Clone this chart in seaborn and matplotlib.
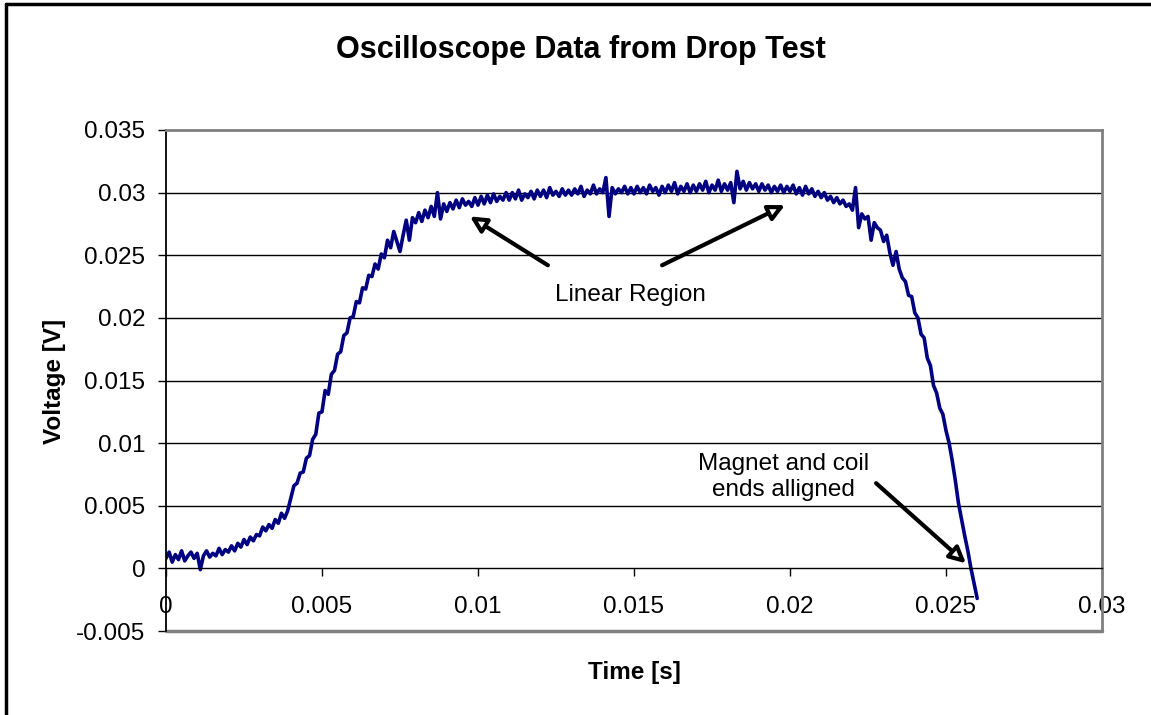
import numpy as np
import matplotlib
matplotlib.use("Agg")
import matplotlib.pyplot as plt
from matplotlib.lines import Line2D
from matplotlib.ticker import FuncFormatter, MultipleLocator
import seaborn as sns

# oscilloscope trace, one sample every 0.1 ms, voltage in mV
dt_ms = 0.1
volts_mv = [
    0.8, 1.3, 0.5, 1.1, 0.7, 1.4, 0.6, 1.0, 1.3, 0.8,
    1.2, -0.1, 1.0, 1.4, 0.9, 1.2, 1.0, 1.6, 1.1, 1.5,
    1.3, 1.8, 1.4, 2.0, 1.7, 2.3, 1.9, 2.5, 2.2, 2.7,
    2.6, 3.3, 3.0, 3.5, 3.2, 3.9, 3.6, 4.4, 4.0, 4.6,
    5.6, 6.6, 6.8, 7.6, 7.7, 8.8, 9.0, 10.3, 10.7, 12.4,
    12.5, 14.2, 13.9, 15.5, 15.8, 17.1, 17.3, 18.6, 18.8, 20.0,
    20.1, 21.3, 21.2, 22.4, 22.3, 23.4, 23.3, 24.3, 23.9, 25.1,
    24.8, 26.2, 25.6, 26.9, 26.1, 25.3, 26.6, 27.8, 26.2, 28.0,
    27.6, 28.4, 27.7, 28.6, 28.0, 28.9, 28.1, 30.0, 27.9, 29.1,
    28.5, 29.2, 28.7, 29.4, 28.8, 29.5, 29.0, 29.3, 28.9, 29.6,
    29.0, 29.7, 29.1, 29.8, 29.2, 29.9, 29.3, 29.7, 29.4, 30.0,
    29.4, 30.0, 29.5, 30.2, 29.4, 29.9, 29.6, 30.1, 29.5, 30.2,
    29.7, 30.2, 29.6, 30.4, 29.8, 30.1, 29.7, 30.3, 29.8, 30.2,
    29.8, 30.3, 29.9, 30.5, 29.7, 30.2, 29.9, 30.6, 29.9, 30.3,
    30.0, 31.2, 28.1, 30.4, 29.9, 30.3, 30.0, 30.5, 29.9, 30.4,
    29.9, 30.5, 30.0, 30.4, 29.9, 30.6, 30.1, 30.4, 29.8, 30.5,
    30.0, 30.6, 30.1, 30.8, 29.9, 30.5, 30.1, 30.7, 30.0, 30.6,
    30.1, 30.7, 30.2, 30.9, 30.0, 30.6, 30.2, 31.0, 30.1, 30.7,
    30.2, 30.8, 29.2, 31.7, 30.3, 30.9, 30.2, 30.8, 30.3, 30.7,
    30.1, 30.7, 30.2, 30.6, 30.0, 30.5, 30.1, 30.6, 30.0, 30.5,
    30.1, 30.6, 29.9, 30.4, 29.8, 30.5, 29.9, 30.3, 29.7, 30.1,
    29.6, 30.0, 29.4, 29.7, 29.2, 29.6, 29.1, 29.4, 28.9, 29.1,
    28.6, 30.4, 27.2, 28.3, 27.9, 28.1, 26.2, 27.6, 27.2, 27.0,
    26.1, 26.6, 25.2, 24.2, 25.3, 23.9, 23.2, 22.9, 21.8, 21.7,
    20.4, 20.0, 18.7, 18.4, 16.8, 16.2, 14.6, 14.0, 12.8, 12.3,
    11.0, 10.0, 8.6, 7.0, 5.2, 3.9, 2.6, 1.4, 0.0, -1.2,
    -2.4,
]

title = "Oscilloscope Data from Drop Test"
x_label = "Time [s]"
y_label = "Voltage [V]"
note_linear = "Linear Region"
note_magnet = "Magnet and coil\nends alligned"

time_s = np.arange(len(volts_mv)) * dt_ms * 1e-3
volts = np.array(volts_mv) * 1e-3

sns.set_style("white")
plt.rcParams['font.family'] = ['Liberation Sans', 'DejaVu Sans']
plt.rcParams['text.color'] = 'black'
plt.rcParams['axes.labelcolor'] = 'black'
plt.rcParams['xtick.color'] = 'black'
plt.rcParams['ytick.color'] = 'black'

W, H = 1151, 715
fig = plt.figure(figsize=(W / 100, H / 100), dpi=100)
ax = fig.add_axes([166 / W, 1 - 631 / H, (1102 - 166) / W, (631 - 130) / H])

sns.lineplot(x=time_s, y=volts, ax=ax, color='#000080', linewidth=2.6, sort=False)

ax.set_xlim(0, 0.03)
ax.set_ylim(-0.005, 0.035)
ax.xaxis.set_major_locator(MultipleLocator(0.005))
ax.yaxis.set_major_locator(MultipleLocator(0.005))
fmt = FuncFormatter(lambda v, p: '%g' % round(v, 4))
ax.xaxis.set_major_formatter(fmt)
ax.yaxis.set_major_formatter(fmt)

# horizontal gridlines, Excel style
for yv in np.arange(0.005, 0.0301, 0.005):
    ax.axhline(yv, color='black', lw=1, zorder=0)

# x axis crosses at y = 0, grey frame round the plot area
ax.spines['bottom'].set_position(('data', 0))
ax.spines['bottom'].set_color('black')
ax.spines['bottom'].set_linewidth(1)
ax.spines['left'].set_color('black')
ax.spines['left'].set_linewidth(1.3)
for s in ['top', 'right']:
    ax.spines[s].set_color('#808080')
    ax.spines[s].set_linewidth(2)
ax.axhline(-0.005, color='#808080', lw=2.5, clip_on=False)

ax.tick_params(axis='x', direction='out', length=6, width=1, pad=14,
               labelsize=17.5, bottom=True, colors='black')
ax.tick_params(axis='y', direction='out', length=6, width=1, pad=9,
               labelsize=17.5, left=True, colors='black')
ax.set_xlabel('')
ax.set_ylabel('')

fig.text(581 / W, 1 - 50 / H, title, ha='center', va='center',
         fontsize=22, fontweight='bold', color='black')
fig.text(634 / W, 1 - 673 / H, x_label, ha='center', va='center',
         fontsize=17.5, fontweight='bold', color='black')
fig.text(54 / W, 1 - 381 / H, y_label, ha='center', va='center',
         fontsize=17.5, fontweight='bold', rotation=90, color='black')

arrow = dict(arrowstyle='-|>', color='black', lw=3, fc='white',
             mutation_scale=24, shrinkA=0, shrinkB=0)
ax.annotate('', xy=(0.00974, 0.0281), xytext=(0.01224, 0.0242),
            arrowprops=arrow)
ax.annotate('', xy=(0.01984, 0.0290), xytext=(0.0159, 0.0242),
            arrowprops=arrow)
ax.text(0.0149, 0.0218, note_linear, ha='center', va='center', fontsize=17.5,
        color='black')
ax.annotate('', xy=(0.02564, 0.0004), xytext=(0.02276, 0.0068),
            arrowprops=arrow)
ax.text(0.01978, 0.0073, note_magnet, ha='center', va='center',
        fontsize=17.5, linespacing=1.2, color='black')

# outer chart border (only left and top edges are inside the picture)
fig.add_artist(Line2D([6 / W, 6 / W], [0, 1 - 4 / H], transform=fig.transFigure,
                      color='black', lw=2.5))
fig.add_artist(Line2D([6 / W, 1], [1 - 4 / H, 1 - 4 / H], transform=fig.transFigure,
                      color='black', lw=2.5))

fig.savefig('out.png', dpi=100, facecolor='white')
